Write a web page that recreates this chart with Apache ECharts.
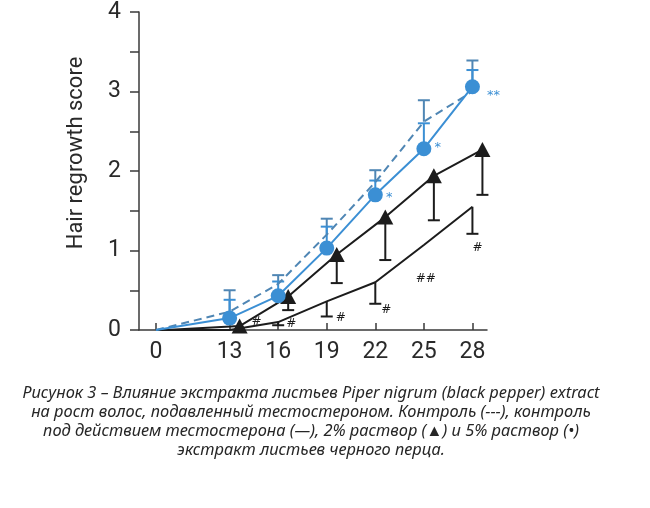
<!DOCTYPE html>
<html><head><meta charset="utf-8">
<script src="https://cdn.jsdelivr.net/npm/echarts@6/dist/echarts.min.js"></script>
<style>html,body{margin:0;padding:0;background:#fff}#c{width:650px;height:508px}</style>
</head><body><div id="c"></div>
<script>
// ---- data ----
const days = [0, 13, 16, 19, 22, 25, 28];
const controlMean  = [0, 0.23, 0.58, 1.20, 1.86, 2.62, 3.00];
const controlUpper = [null, 0.50, 0.69, 1.40, 2.01, 2.89, 3.39];
const pepper5Mean  = [0, 0.15, 0.43, 1.03, 1.70, 2.28, 3.06];
const pepper5Upper = [null, 0.38, 0.61, 1.30, 1.88, 2.60, 3.27];
const pepper2Mean  = [0, 0.05, 0.42, 0.95, 1.42, 1.94, 2.27];
const pepper2Lower = [null, null, 0.25, 0.59, 0.88, 1.38, 1.70];
const testoMean    = [0, 0, 0.10, 0.36, 0.60, 1.07, 1.55];
const testoLower   = [null, null, 0.06, 0.17, 0.33, null, 1.21];
const testoSig     = ['', '#', '#', '#', '#', '##', '#'];
const pepper5Sig   = ['', '', '', '', '*', '*', '**'];
const yTickLabels  = ['0', '1', '2', '3', '4'];
const yTitle = 'Hair regrowth score';
const captionLines = [
  'Рисунок 3 – Влияние экстракта листьев Piper nigrum (black pepper) extract',
  'на рост волос, подавленный тестостероном. Контроль (---), контроль',
  'под действием тестостерона (—), 2% раствор (▲) и 5% раствор (•)',
  'экстракт листьев черного перца.'
];

// ---- styles ----
const BLUE = '#3b8fd4', DASHBLUE = '#4f86b4', BLACK = '#1c1c1c', AXIS = '#3a3a3a';
const testoSigOffsets = [[0,0],[27,-8],[13,2],[14,16],[11,28],[2,34],[5,41]];
const pepper5SigOffsets = [[0,0],[0,0],[0,0],[0,0],[14,3],[14,-1],[21,9]];

const pairs = (a) => days.map((d, i) => [d, a[i]]);
const markerPairs = (a) => days.map((d, i) => d === 0 ? { value: [d, a[i]], symbol: 'none' } : [d, a[i]]);
const bars = (m, e) => days.map((d, i) => e[i] == null ? null : [d, m[i], e[i]]).filter(Boolean);

function errBar(color, xi, data) {
  return {
    type: 'custom', xAxisIndex: xi, yAxisIndex: xi, data, z: 2, silent: true,
    renderItem(params, api) {
      const p0 = api.coord([api.value(0), api.value(1)]);
      const p1 = api.coord([api.value(0), api.value(2)]);
      const hw = 6;
      return { type: 'group', children: [
        { type: 'line', shape: { x1: p0[0], y1: p0[1], x2: p1[0], y2: p1[1] }, style: { stroke: color, lineWidth: 2 } },
        { type: 'line', shape: { x1: p1[0] - hw, y1: p1[1], x2: p1[0] + hw, y2: p1[1] }, style: { stroke: color, lineWidth: 2 } }
      ]};
    }
  };
}
function sigSeries(mean, sig, offs, color, size) {
  return {
    type: 'scatter', symbolSize: 2, itemStyle: { color: 'rgba(0,0,0,0)' }, z: 5, silent: true,
    data: days.map((d, i) => ({ value: [d, mean[i]], label: { show: sig[i] !== '', offset: offs[i] } })),
    label: { show: true, position: 'inside', formatter: (p) => sig[p.dataIndex], color, fontSize: size,
             fontFamily: 'DejaVu Sans', fontStyle: 'italic', opacity: 1 }
  };
}

const xAxisBase = {
  type: 'value', min: -1.05, max: 28.9,
  breaks: [{ start: 1.5, end: 11.5, gap: '7.2%' }],
  breakArea: { show: false },
  splitLine: { show: false },
  axisLine: { show: true, onZero: false, lineStyle: { color: AXIS, width: 1.5 } },
  axisTick: { show: true, inside: true, length: 7, customValues: days, lineStyle: { color: AXIS, width: 1.5 } },
  axisLabel: { show: true, customValues: days, color: '#2a2a2a', fontSize: 23, fontFamily: 'Roboto', margin: 11 }
};
const yAxisBase = {
  type: 'value', min: 0, max: 4, interval: 0.5,
  splitLine: { show: false },
  axisLine: { show: true, onZero: false, lineStyle: { color: AXIS, width: 1.5 } },
  axisTick: { show: true, length: 9, lineStyle: { color: AXIS, width: 1.5 } },
  axisLabel: { color: '#2a2a2a', fontSize: 23, fontFamily: 'Roboto', margin: 18,
    formatter: (v) => Number.isInteger(v) ? yTickLabels[v] : '' }
};

const graphics = [{
  type: 'text', x: 76, y: 153, rotation: Math.PI / 2,
  style: { text: yTitle, font: '22px Roboto', fill: '#2a2a2a', align: 'center', verticalAlign: 'middle' }
}];
captionLines.forEach((t, i) => graphics.push({
  type: 'text', x: 311, y: 393 + i * 19,
  style: { text: t, font: 'italic 16.4px "Noto Sans"', fill: '#262626', align: 'center', verticalAlign: 'middle' }
}));

const option = {
  backgroundColor: '#fff',
  animation: false,
  grid: [
    { left: 139, right: 163, top: 12, bottom: 178 },
    { left: 149, right: 153, top: 12, bottom: 178 }
  ],
  xAxis: [
    Object.assign({ gridIndex: 0 }, xAxisBase),
    Object.assign({}, xAxisBase, { gridIndex: 1, show: false })
  ],
  yAxis: [
    Object.assign({ gridIndex: 0 }, yAxisBase),
    Object.assign({}, yAxisBase, { gridIndex: 1, show: false })
  ],
  graphic: graphics,
  series: [
    errBar(BLACK, 0, bars(testoMean, testoLower)),
    errBar(BLACK, 1, bars(pepper2Mean, pepper2Lower)),
    errBar(DASHBLUE, 0, bars(controlMean, controlUpper)),
    errBar(BLUE, 0, bars(pepper5Mean, pepper5Upper)),
    { type: 'line', data: pairs(testoMean), symbol: 'none', lineStyle: { color: BLACK, width: 2 }, z: 3 },
    { type: 'line', xAxisIndex: 1, yAxisIndex: 1, data: markerPairs(pepper2Mean), symbol: 'triangle', symbolSize: [16, 15],
      itemStyle: { color: BLACK }, lineStyle: { color: BLACK, width: 2 }, z: 3 },
    { type: 'line', data: pairs(controlMean), symbol: 'none', lineStyle: { color: DASHBLUE, width: 2, type: [8, 5] }, z: 3 },
    { type: 'line', data: markerPairs(pepper5Mean), symbol: 'circle', symbolSize: 15,
      itemStyle: { color: BLUE }, lineStyle: { color: BLUE, width: 2 }, z: 4 },
    sigSeries(testoMean, testoSig, testoSigOffsets, BLACK, 12),
    sigSeries(pepper5Mean, pepper5Sig, pepper5SigOffsets, BLUE, 13)
  ]
};
const chart = echarts.init(document.getElementById('c'));
chart.setOption(option);
</script></body></html>
